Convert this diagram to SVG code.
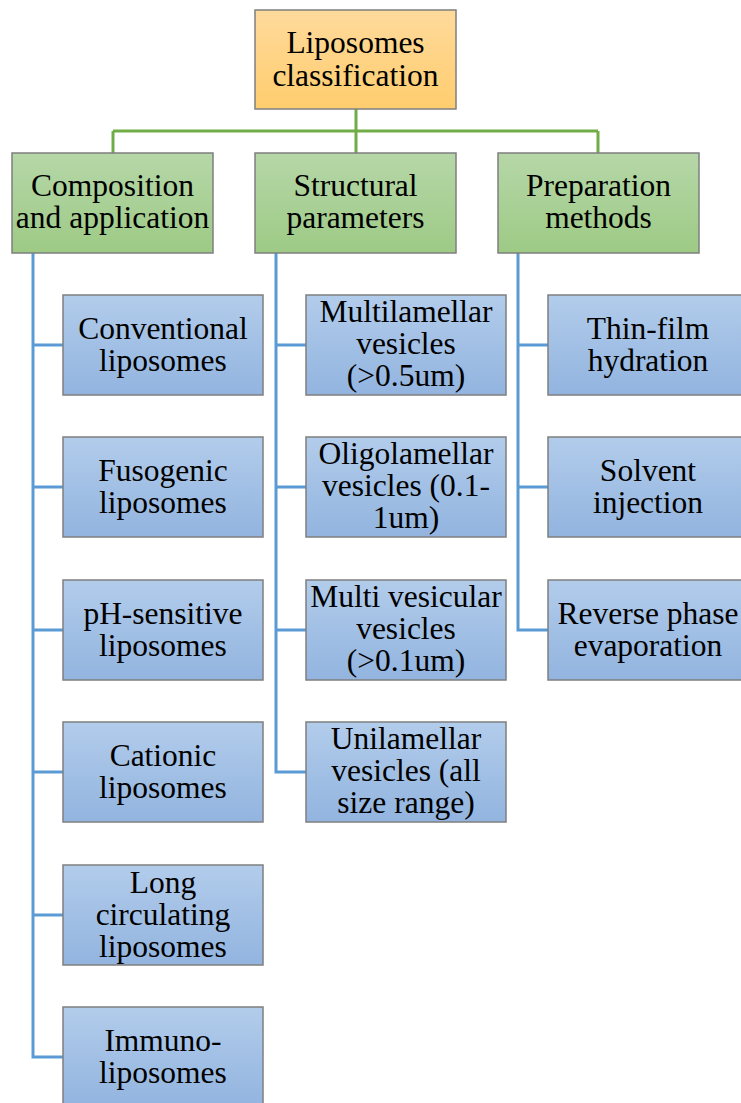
<svg xmlns="http://www.w3.org/2000/svg" width="741" height="1103" viewBox="0 0 741 1103">
<defs>
<linearGradient id="gOrange" x1="0" y1="0" x2="0" y2="1"><stop offset="0" stop-color="#FFDA9C"/><stop offset="1" stop-color="#FFCD6E"/></linearGradient>
<linearGradient id="gGreen" x1="0" y1="0" x2="0" y2="1"><stop offset="0" stop-color="#B6D7A8"/><stop offset="1" stop-color="#9DCA85"/></linearGradient>
<linearGradient id="gBlue" x1="0" y1="0" x2="0" y2="1"><stop offset="0" stop-color="#B2CCEB"/><stop offset="1" stop-color="#92B4DF"/></linearGradient>
</defs>
<style>
rect{stroke:#7F7F7F;stroke-width:1.5}
.o{fill:url(#gOrange)}
.g{fill:url(#gGreen)}
.b{fill:url(#gBlue)}
text{font-family:'Liberation Serif','DejaVu Serif',serif;font-size:31.5px;fill:#000;text-anchor:middle}
.gl{stroke:#70AD47;stroke-width:3;fill:none}
.bl{stroke:#5B9BD5;stroke-width:3;fill:none}
</style>
<rect width="741" height="1103" fill="#fff" style="stroke:none"/>
<g id="connectors">
<path class="gl" d="M356 109V153M113 131H598M113 131V153M598 131V153"/>
<path class="bl" d="M33 253V1057H63M33 345H63M33 487H63M33 630H63M33 772H63M33 915H63"/>
<path class="bl" d="M276 253V772H306M276 345H306M276 487H306M276 630H306"/>
<path class="bl" d="M518 253V630H548M518 345H548M518 487H548"/>
</g>
<g font-family="Liberation Serif, serif">
<g id="root"><rect class="o" x="255" y="10" width="201" height="99"/><text x="355.5" y="53">Liposomes</text><text x="355.5" y="86">classification</text></g>
<g id="composition"><rect class="g" x="12" y="153" width="201" height="100"/><text x="112.5" y="196">Composition</text><text x="112.5" y="228">and application</text></g>
<g id="structural"><rect class="g" x="255" y="153" width="201" height="100"/><text x="355.5" y="196">Structural</text><text x="355.5" y="228">parameters</text></g>
<g id="preparation"><rect class="g" x="498" y="153" width="201" height="100"/><text x="598.5" y="196">Preparation</text><text x="598.5" y="228">methods</text></g>
<g id="conventional"><rect class="b" x="63" y="295" width="200" height="100"/><text x="163" y="339">Conventional</text><text x="163" y="371">liposomes</text></g>
<g id="fusogenic"><rect class="b" x="63" y="437" width="200" height="100"/><text x="163" y="481">Fusogenic</text><text x="163" y="513">liposomes</text></g>
<g id="ph-sensitive"><rect class="b" x="63" y="580" width="200" height="100"/><text x="163" y="624">pH-sensitive</text><text x="163" y="656">liposomes</text></g>
<g id="cationic"><rect class="b" x="63" y="722" width="200" height="100"/><text x="163" y="766">Cationic</text><text x="163" y="798">liposomes</text></g>
<g id="long-circulating"><rect class="b" x="63" y="865" width="200" height="100"/><text x="163" y="893">Long</text><text x="163" y="925">circulating</text><text x="163" y="957">liposomes</text></g>
<g id="immuno"><rect class="b" x="63" y="1007" width="200" height="100"/><text x="163" y="1051">Immuno-</text><text x="163" y="1083">liposomes</text></g>
<g id="multilamellar"><rect class="b" x="306" y="295" width="200" height="100"/><text x="406" y="322">Multilamellar</text><text x="406" y="354">vesicles</text><text x="406" y="386">(&gt;0.5um)</text></g>
<g id="oligolamellar"><rect class="b" x="306" y="437" width="200" height="100"/><text x="406" y="464">Oligolamellar</text><text x="406" y="496">vesicles (0.1-</text><text x="406" y="528">1um)</text></g>
<g id="multivesicular"><rect class="b" x="306" y="580" width="200" height="100"/><text x="406" y="607">Multi vesicular</text><text x="406" y="639">vesicles</text><text x="406" y="671">(&gt;0.1um)</text></g>
<g id="unilamellar"><rect class="b" x="306" y="722" width="200" height="100"/><text x="406" y="749">Unilamellar</text><text x="406" y="781">vesicles (all</text><text x="406" y="813">size range)</text></g>
<g id="thin-film"><rect class="b" x="548" y="295" width="200" height="100"/><text x="648" y="339">Thin-film</text><text x="648" y="371">hydration</text></g>
<g id="solvent"><rect class="b" x="548" y="437" width="200" height="100"/><text x="648" y="481">Solvent</text><text x="648" y="513">injection</text></g>
<g id="reverse-phase"><rect class="b" x="548" y="580" width="200" height="100"/><text x="648" y="624">Reverse phase</text><text x="648" y="656">evaporation</text></g>
</g>
</svg>
